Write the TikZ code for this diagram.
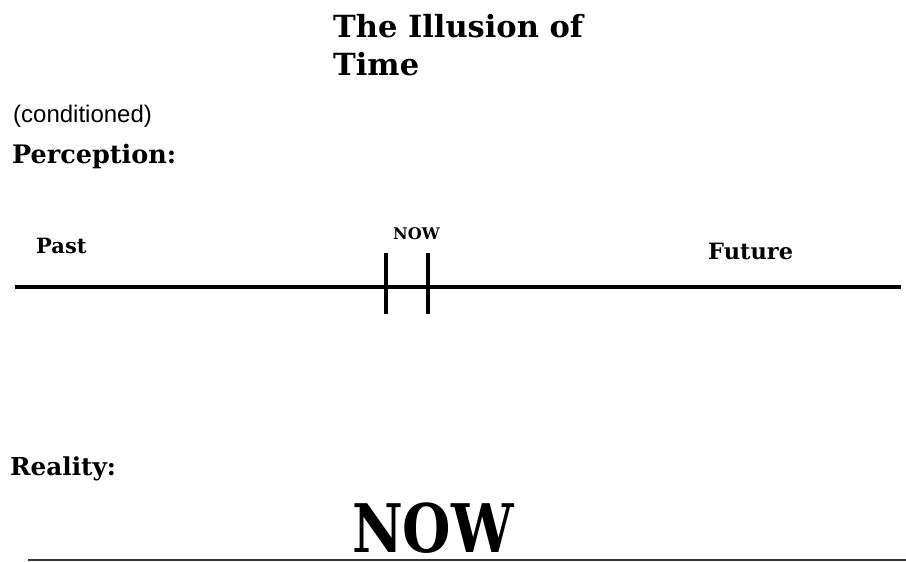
\documentclass[tikz,border=0pt]{standalone}
\usepackage{fontspec}
\setmainfont{DejaVu Serif}
\newfontfamily\labelsans{Liberation Sans}
\usetikzlibrary{positioning}

\tikzset{
  lbl/.style={anchor=base west,inner sep=0pt,font=\bfseries},
  axis/.style={line width=3.5pt},
}

\begin{document}
\begin{tikzpicture}[x=1pt,y=-1pt]
    \useasboundingbox (0,0) rectangle (906,562);
    % headings
    \node[lbl,font=\bfseries\fontsize{30.5}{38}\selectfont,align=left] (title) at (333,75)
      {The Illusion of\\Time};
    \node[lbl,font=\labelsans\fontsize{24}{24}\selectfont] (cond) at (13,122) {(conditioned)};
    \node[lbl,font=\bfseries\fontsize{25.5}{25.5}\selectfont] (perc) at (12,163) {Perception:};
    % time line
    \coordinate (left) at (15,287);
    \coordinate (right) at (901,287);
    \draw[axis] (left) -- (right);
    \coordinate (t1a) at (386,253);
    \coordinate (t1b) at (386,314);
    \coordinate (t2a) at (428,253);
    \coordinate (t2b) at (428,314);
    \draw[axis] (t1a) -- (t1b);
    \draw[axis] (t2a) -- (t2b);
    \node[lbl,font=\bfseries\fontsize{21}{21}\selectfont] (past) at (36,253) {Past};
    \node[lbl,font=\bfseries\fontsize{16}{16}\selectfont] (nowsmall) at (393,239) {NOW};
    \node[lbl,font=\bfseries\fontsize{22.5}{22.5}\selectfont] (future) at (708,259) {Future};
    % reality
    \node[lbl,font=\bfseries\fontsize{24.7}{24.7}\selectfont] (real) at (10,475) {Reality:};
    \node[lbl,font=\bfseries\fontsize{67}{67}\selectfont,xscale=0.83] (nowbig) at (352,552) {NOW};
    \coordinate (bl) at (28,560);
    \coordinate (br) at (906,560);
    \draw[line width=1.5pt,black!80] (bl) -- (br);
  \end{tikzpicture}
\end{document}
